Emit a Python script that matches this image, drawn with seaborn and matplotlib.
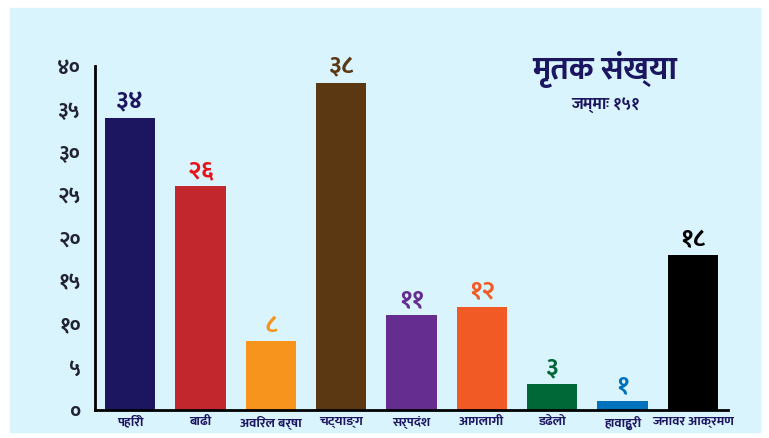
import pandas as pd
import seaborn as sns
import matplotlib.pyplot as plt
from matplotlib import font_manager
from matplotlib.patches import Rectangle

categories = ['पहिरो', 'बाढी', 'अविरल बर्षा', 'चट्याङ्ग', 'सर्पदंश',
              'आगलागी', 'डढेलो', 'हावाहुरी', 'जनावर आक्रमण']
deaths = [34, 26, 8, 38, 11, 12, 3, 1, 18]
bar_colors = ['#1c1660', '#c1272d', '#f7941d', '#5c3812', '#662d91',
              '#f15a24', '#006837', '#0071bc', '#000000']
label_colors = ['#1c1660', '#e8141b', '#f7941d', '#5c3812', '#662d91',
                '#f15a24', '#006837', '#0071bc', '#000000']
y_ticks = [0, 5, 10, 15, 20, 25, 30, 35, 40]

# pick a devanagari font that is installed and has a bold face
bold_fams = {f.name for f in font_manager.fontManager.ttflist
             if f.weight in (700, 'bold')}
all_fams = {f.name for f in font_manager.fontManager.ttflist}
preferred = ['Mukta', 'Hind', 'Noto Sans Devanagari', 'Annapurna SIL',
             'Amiko', 'Arya', 'FreeSans']
deva_family = next((n for n in preferred if n in bold_fams),
                   next((n for n in preferred if n in all_fams), 'FreeSans'))

sns.set_style('white')
plt.rcParams['font.family'] = [deva_family, 'DejaVu Sans']

deva_digits = str.maketrans('0123456789', '०१२३४५६७८९')


def to_deva(n):
    return str(n).translate(deva_digits)


df = pd.DataFrame({'Cause': categories, 'Deaths': deaths})

fig = plt.figure(figsize=(7.69, 4.38), dpi=100, facecolor='white')
fig.patches.append(Rectangle((10 / 769, 6 / 438), 750 / 769, 424 / 438,
                             transform=fig.transFigure, color='#d9f4fc',
                             zorder=-5))

ax = fig.add_axes([95 / 769, 28 / 438, 633 / 769, 344 / 438])
ax.set_facecolor('none')
ax.set_zorder(2)

sns.barplot(
    data=df,
    x='Cause',
    y='Deaths',
    hue='Cause',
    palette=bar_colors,
    saturation=1,
    width=0.72,
    linewidth=0,
    legend=False,
    ax=ax
)

for i, p in enumerate(ax.patches):
    ax.text(p.get_x() + p.get_width() / 2, p.get_height() + 0.4,
            to_deva(deaths[i]), ha='center', va='bottom',
            fontsize=18, fontweight='bold', color=label_colors[i])

ax.set_ylim(0, 40)
ax.set_xlim(-0.5, len(categories) - 0.5)
ax.set_yticks(y_ticks)
ax.set_yticklabels([to_deva(t) for t in y_ticks], fontsize=15,
                   fontweight='bold', color='#222233')
ax.tick_params(axis='y', direction='in', length=15, color='#8a9aa0',
               width=1, pad=10)

ax.set_xticks(range(len(categories)))
ax.set_xticklabels(categories, fontsize=9.5, fontweight='bold',
                   color='#1c1660')
ax.tick_params(axis='x', length=0, pad=4)
ax.set_xticks([i + 0.5 for i in range(len(categories))], minor=True)
ax.tick_params(axis='x', which='minor', direction='in', length=8,
               color='#8a9aa0', width=1)

ax.set_xlabel('')
ax.set_ylabel('')
for side in ['top', 'right']:
    ax.spines[side].set_visible(False)
ax.spines['left'].set_color('black')
ax.spines['left'].set_linewidth(2)
ax.spines['bottom'].set_color('black')
ax.spines['bottom'].set_linewidth(2)

fig.text(605 / 769, 1 - 70 / 438, 'मृतक संख्या', ha='center', va='center',
         fontsize=23, fontweight='bold', color='#1c1660')
fig.text(605 / 769, 1 - 106 / 438, 'जम्माः १५१', ha='center', va='center',
         fontsize=12, fontweight='bold', color='#1c1660')

fig.savefig('out.png', dpi=100, facecolor=fig.get_facecolor())
